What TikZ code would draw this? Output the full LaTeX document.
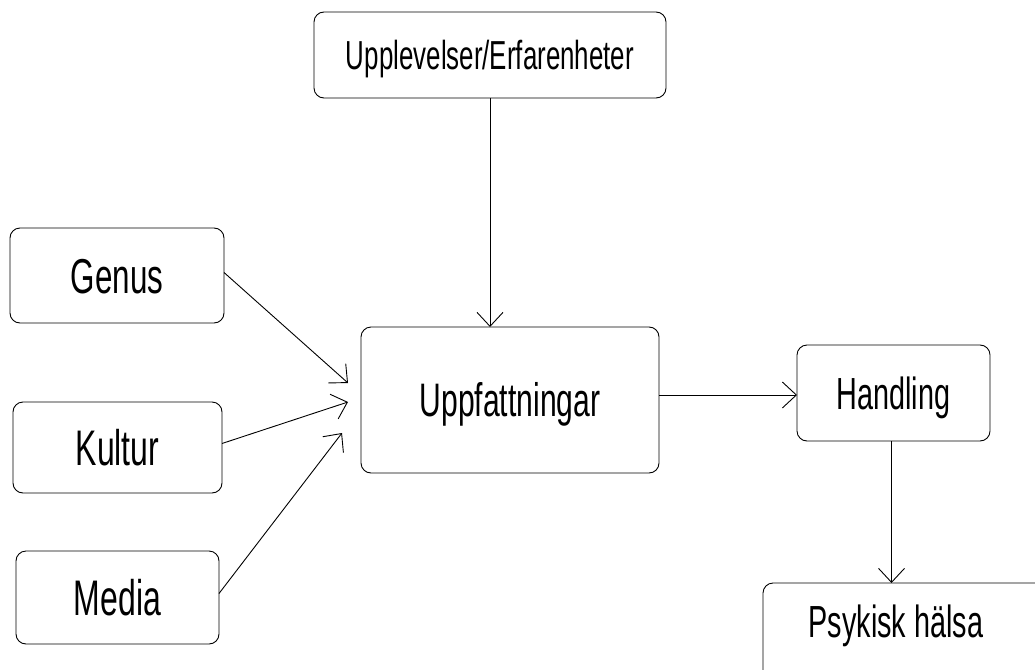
\documentclass[tikz,border=0pt]{standalone}
\usepackage{fontspec}
\newfontfamily\agency[FakeStretch=0.64]{Liberation Sans}
\usetikzlibrary{arrows.meta}
\tikzset{
  box/.style={draw=black, line width=0.9pt, rounded corners=10pt, inner sep=0pt, outer sep=0pt, align=center, text depth=0pt},
  conn/.style={draw=black, line width=0.9pt, -{Straight Barb[length=14pt,width=26pt]}},
}
\begin{document}
\begin{tikzpicture}[x=1pt,y=-1pt]
\clip (0,0) rectangle (1035,669);
\fill[white] (0,0) rectangle (1035,669);
\node[box, minimum width=352pt, minimum height=86pt, text height=29pt, font=\agency\fontsize{40.5}{40.5}\selectfont] (upp) at (490,55) {Upplevelser/Erfarenheter};
\node[box, minimum width=298pt, minimum height=146pt, text height=33.7pt, font=\agency\fontsize{47}{47}\selectfont] (uppf) at (510,400) {Uppfattningar};
\node[box, minimum width=214pt, minimum height=95pt, text height=35.1pt, font=\agency\fontsize{49}{49}\selectfont] (genus) at (117,275.5) {Genus};
\node[box, minimum width=209pt, minimum height=91pt, text height=35.8pt, font=\agency\fontsize{50}{50}\selectfont] (kultur) at (117.5,447.5) {Kultur};
\node[box, minimum width=203pt, minimum height=93pt, text height=35.8pt, font=\agency\fontsize{50}{50}\selectfont] (media) at (117.5,597.5) {Media};
\node[box, minimum width=193pt, minimum height=96pt, text height=32.2pt, font=\agency\fontsize{45}{45}\selectfont] (hand) at (893.5,393) {Handling};
\node[box, minimum width=320pt, minimum height=140pt, anchor=north west] (psy) at (763,583) {};
\node[inner sep=0pt, text height=32.2pt, text depth=0pt, font=\agency\fontsize{45}{45}\selectfont] (psytext) at (896,621) {Psykisk hälsa};
\coordinate (gend) at (348,383);
\coordinate (kend) at (348,402);
\coordinate (mend) at (342,433);
\draw[conn] (upp.south) -- (upp.south |- uppf.north);
\draw[conn] (genus.east) ++(0,-3) -- (gend);
\draw[conn] (kultur.east) ++(0,-4) -- (kend);
\draw[conn] (media.east) ++(0,-4) -- (mend);
\draw[conn] (uppf.east |- hand.west) ++(0,2) -- ++(138,0);
\draw[conn] (hand.south) ++(-2,0) -- ++(0,142);
\end{tikzpicture}
\end{document}
